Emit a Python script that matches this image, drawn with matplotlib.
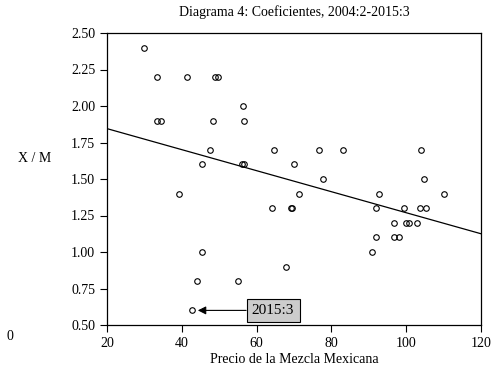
import matplotlib
matplotlib.use('Agg')
import matplotlib.pyplot as plt

plt.rcParams['font.family'] = ['Liberation Serif', 'DejaVu Serif']

# precio de la mezcla y coeficiente X/M
precio = [30.0, 33.3, 41.3, 48.9, 49.8, 56.3, 33.3, 34.4, 48.4, 56.7,
          47.5, 64.7, 45.4, 56.0, 56.5, 70.0, 76.8, 83.2, 104.0, 77.8,
          104.7, 39.2, 71.3, 64.0, 69.1, 69.5, 45.3, 67.9, 44.1, 55.0,
          42.8, 92.7, 110.1, 91.8, 99.4, 103.7, 105.3, 96.7, 100.0, 100.8,
          102.8, 91.9, 96.7, 98.1, 90.9]
coef = [2.4, 2.2, 2.2, 2.2, 2.2, 2.0, 1.9, 1.9, 1.9, 1.9,
        1.7, 1.7, 1.6, 1.6, 1.6, 1.6, 1.7, 1.7, 1.7, 1.5,
        1.5, 1.4, 1.4, 1.3, 1.3, 1.3, 1.0, 0.9, 0.8, 0.8,
        0.6, 1.4, 1.4, 1.3, 1.3, 1.3, 1.3, 1.2, 1.2, 1.2,
        1.2, 1.1, 1.1, 1.1, 1.0]

# recta de regresion
recta_x = [20, 120]
recta_y = [1.845, 1.125]

xticks = [20, 40, 60, 80, 100, 120]
yticks = [0.50, 0.75, 1.00, 1.25, 1.50, 1.75, 2.00, 2.25, 2.50]

fig = plt.figure(figsize=(4.96, 3.69), dpi=100)
ax = fig.add_axes([107 / 496, 1 - 325 / 369, 374 / 496, 292 / 369])

ax.plot(precio, coef, 'o', mfc='none', mec='black', ms=4, mew=0.8)
ax.plot(recta_x, recta_y, '-', color='black', lw=0.9)

ax.annotate('2015:3', xy=(42.8, 0.6), xytext=(64.4, 0.6),
            ha='center', va='center', fontsize=11,
            bbox=dict(boxstyle='square,pad=0.35', fc='#cccccc', ec='black', lw=0.8),
            arrowprops=dict(arrowstyle='-|>', color='black', lw=0.8,
                            shrinkA=0, shrinkB=4, mutation_scale=12))

ax.set_xlim(20, 120)
ax.set_ylim(0.5, 2.5)
ax.set_xticks(xticks)
ax.set_yticks(yticks)
ax.set_yticklabels(['%.2f' % v for v in yticks])
ax.tick_params(direction='out', length=5, width=0.8, labelsize=10, colors='black')
for s in ax.spines.values():
    s.set_linewidth(0.9)

ax.set_title('Diagrama 4: Coeficientes, 2004:2-2015:3', fontsize=10, pad=12)
ax.set_xlabel('Precio de la Mezcla Mexicana', fontsize=10, labelpad=2)
fig.text(35 / 496, 1 - 158 / 369, 'X / M', fontsize=10, ha='center', va='center')
fig.text(10 / 496, 1 - 336 / 369, '0', fontsize=10, ha='center', va='center')

fig.savefig('out.png', dpi=100)
